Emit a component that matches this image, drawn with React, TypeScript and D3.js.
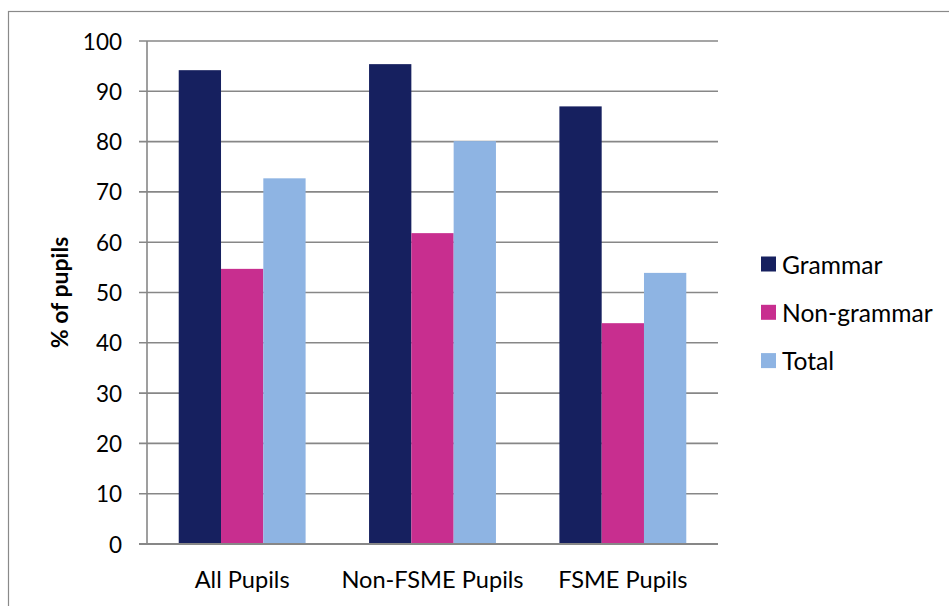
import React from "react";
import * as d3 from "d3";

const categories = ["All Pupils", "Non-FSME Pupils", "FSME Pupils"];
const seriesNames = ["Grammar", "Non-grammar", "Total"];
const grammar = [94.2, 95.4, 87.0];
const nonGrammar = [54.7, 61.8, 43.9];
const total = [72.7, 80.1, 53.9];
const yTicks = [0, 10, 20, 30, 40, 50, 60, 70, 80, 90, 100];
const colors = ["#16205f", "#c82e8f", "#8eb4e3"];

const W = 949;
const H = 606;
const FONT = "Lato, 'Open Sans', sans-serif";

export default function App() {
  const values = [grammar, nonGrammar, total];
  const left = 147;
  const right = 718;
  const top = 41;
  const bottom = 544;

  const x0 = d3.scaleBand<string>().domain(categories).range([left, right]);
  // gap between groups is 1.5 bar widths
  const gap = (x0.bandwidth() * 1.5) / 4.5;
  const x1 = d3
    .scaleBand<string>()
    .domain(seriesNames)
    .range([gap / 2, x0.bandwidth() - gap / 2]);
  const y = d3.scaleLinear().domain([0, 100]).range([bottom, top]);

  const grid = "#878787";

  return (
    <svg
      width={W}
      height={H}
      style={{ position: "absolute", left: 0, top: 0, background: "#fff" }}
      fontFamily={FONT}
    >
      <rect x={8.5} y={11.5} width={W + 20} height={H + 20} fill="#fff" stroke="#8a8a8a" strokeWidth={1.2} />

      {yTicks.map((t) => (
        <g key={t}>
          <line x1={left - 8} x2={right} y1={y(t)} y2={y(t)} stroke={grid} strokeWidth={1.6} />
          <text x={122} y={y(t)} textAnchor="end" dominantBaseline="central" fontSize={22.5} fill="#000">
            {t}
          </text>
        </g>
      ))}

      {categories.map((c, ci) => (
        <g key={c} transform={`translate(${x0(c)},0)`}>
          {seriesNames.map((s, si) => {
            const v = values[si][ci];
            return (
              <rect
                key={s}
                x={x1(s)}
                y={y(v)}
                width={x1.bandwidth()}
                height={y(0) - y(v)}
                fill={colors[si]}
              />
            );
          })}
          <text
            x={x0.bandwidth() / 2}
            y={588}
            textAnchor="middle"
            fontSize={23.6}
            fill="#000"
          >
            {c}
          </text>
        </g>
      ))}

      <line x1={left} x2={left} y1={top} y2={bottom} stroke={grid} strokeWidth={1.6} />
      <line x1={left - 8} x2={right} y1={bottom} y2={bottom} stroke={grid} strokeWidth={1.8} />

      <text
        transform={`translate(59,${(top + bottom) / 2}) rotate(-90)`}
        textAnchor="middle"
        dominantBaseline="central"
        fontSize={23}
        fontWeight="bold"
        fill="#000"
      >
        % of pupils
      </text>

      {seriesNames.map((s, i) => {
        const cy = 264 + i * 48.3;
        return (
          <g key={s}>
            <rect x={761} y={cy - 7.5} width={15} height={15} fill={colors[i]} />
            <text x={782} y={cy} dominantBaseline="central" fontSize={24.6} fill="#000">
              {s}
            </text>
          </g>
        );
      })}
    </svg>
  );
}
